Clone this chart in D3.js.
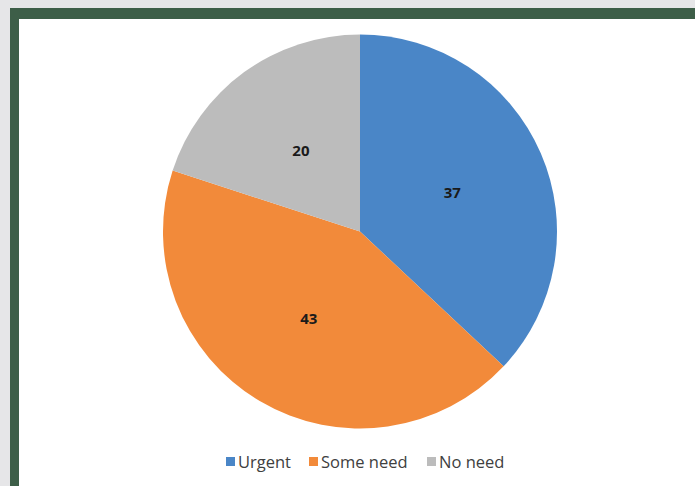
<!DOCTYPE html>
<html><head><meta charset="utf-8">
<script src="https://cdn.jsdelivr.net/npm/d3@7"></script>
<style>
html,body{margin:0;padding:0;background:#e6e6e8;}
svg{display:block;}
</style></head>
<body>
<svg id="chart" width="695" height="486"></svg>
<script>
const categories = ["Urgent", "Some need", "No need"];
const values = [37, 43, 20];
const colors = ["#4a86c7", "#f28a3a", "#bcbcbc"];

const svg = d3.select("#chart");
svg.append("rect").attr("x",0).attr("y",0).attr("width",695).attr("height",486).attr("fill","#e6e6e8");
svg.append("rect").attr("x",10).attr("y",8).attr("width",685).attr("height",478).attr("fill","#3d5e48");
svg.append("rect").attr("x",19).attr("y",19).attr("width",676).attr("height",467).attr("fill","#ffffff");

const cx = 360, cy = 231.5, r = 197;
const data = categories.map((c,i)=>({cat:c, value:values[i], color:colors[i]}));
const pie = d3.pie().value(d=>d.value).sort(null);
const arc = d3.arc().innerRadius(0).outerRadius(r);
const labelArc = d3.arc().innerRadius(r*0.51).outerRadius(r*0.51);
const g = svg.append("g").attr("transform",`translate(${cx},${cy})`);
const arcs = pie(data);
g.selectAll("path").data(arcs).join("path")
  .attr("d",arc).attr("fill",d=>d.data.color);
g.selectAll("text").data(arcs).join("text")
  .attr("transform",d=>`translate(${labelArc.centroid(d)})`)
  .attr("text-anchor","middle").attr("dy","0.4em")
  .attr("font-family","'Open Sans', 'Liberation Sans', sans-serif")
  .attr("font-weight","bold").attr("font-size",15).attr("fill","#1a1a1a")
  .text(d=>d.data.value);

// legend
const legendX = [226, 309, 427];
const lg = svg.append("g");
data.forEach((d,i)=>{
  lg.append("rect").attr("x",legendX[i]).attr("y",457).attr("width",9).attr("height",9).attr("fill",d.color);
  lg.append("text").attr("x",legendX[i]+12).attr("y",468)
    .attr("font-family","'Open Sans', 'Liberation Sans', sans-serif")
    .attr("font-size",16.5).attr("fill","#404040").text(d.cat);
});
</script>
</body></html>
